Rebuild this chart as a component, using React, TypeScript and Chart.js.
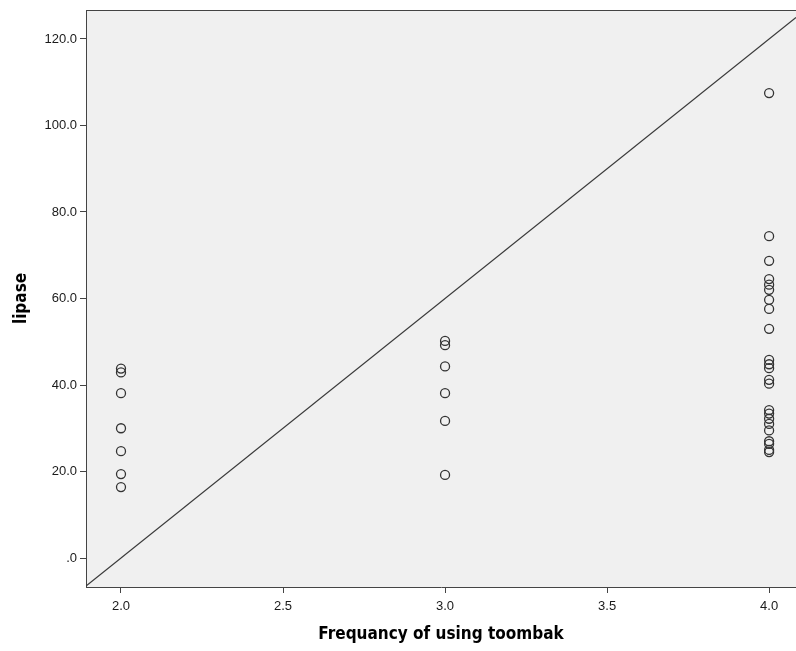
import React, { useEffect, useRef } from "react";
import { Chart, registerables } from "chart.js";

Chart.register(...registerables);

const xCategories = [2.0, 3.0, 4.0];
const lipaseAt2 = [43.8, 42.9, 38.1, 30.0, 24.7, 19.4, 16.4];
const lipaseAt3 = [50.2, 49.2, 44.3, 38.1, 31.7, 19.2];
const lipaseAt4 = [
  107.5, 74.4, 68.7, 64.5, 63.2, 62.0, 59.7, 57.6, 53.0, 45.8, 44.8, 43.9,
  41.2, 40.3, 34.2, 33.4, 32.2, 31.0, 29.5, 27.0, 26.4, 25.0, 24.5,
];
const xTickValues = [2.0, 2.5, 3.0, 3.5, 4.0];
const yTickValues = [0, 20, 40, 60, 80, 100, 120];
const xRange = [1.892, 4.083];
const yRange = [-6.7, 126.7];
const refLine = { slope: 60, intercept: -120 };
const xTitle = "Frequancy of using toombak";
const yTitle = "lipase";

const fmt = (v: number) => (v === 0 ? ".0" : v.toFixed(1));

const plotBg = {
  id: "plotBg",
  beforeDraw(chart: any) {
    const { ctx, chartArea } = chart;
    ctx.save();
    ctx.fillStyle = "#F0F0F0";
    ctx.fillRect(chartArea.left, chartArea.top, chartArea.right - chartArea.left, chartArea.bottom - chartArea.top);
    ctx.restore();
  },
  afterDraw(chart: any) {
    const { ctx, chartArea } = chart;
    ctx.save();
    ctx.strokeStyle = "#444";
    ctx.lineWidth = 1;
    ctx.beginPath();
    ctx.moveTo(chartArea.left, chartArea.top + 0.5);
    ctx.lineTo(chartArea.right, chartArea.top + 0.5);
    ctx.stroke();
    ctx.restore();
  },
};

export default function App() {
  const ref = useRef<HTMLCanvasElement | null>(null);

  useEffect(() => {
    if (!ref.current) return;
    const points: { x: number; y: number }[] = [];
    const groups = [lipaseAt2, lipaseAt3, lipaseAt4];
    groups.forEach((arr, i) => arr.forEach((v) => points.push({ x: xCategories[i], y: v })));
    const linePts = xRange.map((x) => ({ x, y: refLine.slope * x + refLine.intercept }));

    const tickFont = { family: "'Liberation Sans', Arial, sans-serif", size: 13 };
    const titleFont = { family: "'Liberation Sans Narrow', 'DejaVu Sans Condensed', Arial, sans-serif", size: 17, weight: "bold" as const };

    const chart = new Chart(ref.current, {
      type: "scatter",
      data: {
        datasets: [
          {
            type: "line",
            data: linePts,
            borderColor: "#3a3a3a",
            borderWidth: 1.2,
            pointRadius: 0,
            fill: false,
          } as any,
          {
            type: "scatter",
            data: points,
            pointStyle: "circle",
            pointRadius: 4.5,
            backgroundColor: "rgba(0,0,0,0)",
            borderColor: "#333",
            borderWidth: 1.3,
          },
        ],
      },
      options: {
        animation: false,
        responsive: false,
        devicePixelRatio: 1,
        layout: { autoPadding: false, padding: { top: 10, right: 0, left: 0, bottom: 0 } },
        plugins: { legend: { display: false }, tooltip: { enabled: false } },
        scales: {
          x: {
            type: "linear",
            min: xRange[0],
            max: xRange[1],
            afterBuildTicks: (s: any) => {
              s.ticks = xTickValues.map((v) => ({ value: v }));
            },
            afterFit: (s: any) => {
              s.height = 64;
              s.paddingLeft = 0;
              s.paddingRight = 0;
            },
            grid: { drawOnChartArea: false, drawTicks: true, tickLength: 6, color: "#444" },
            border: { display: true, color: "#444", width: 1 },
            ticks: {
              font: tickFont,
              color: "#1a1a1a",
              padding: 6,
              maxRotation: 0,
              autoSkip: false,
              callback: (v: any) => fmt(Number(v)),
            },
            title: { display: true, text: xTitle, font: titleFont, color: "#000", padding: { top: 0, bottom: 6 } },
          },
          y: {
            type: "linear",
            min: yRange[0],
            max: yRange[1],
            afterBuildTicks: (s: any) => {
              s.ticks = yTickValues.map((v) => ({ value: v }));
            },
            afterFit: (s: any) => {
              s.width = 86;
              s.paddingTop = 0;
              s.paddingBottom = 0;
            },
            grid: { drawOnChartArea: false, drawTicks: true, tickLength: 6, color: "#444" },
            border: { display: true, color: "#444", width: 1 },
            ticks: {
              font: tickFont,
              color: "#1a1a1a",
              padding: 3,
              autoSkip: false,
              callback: (v: any) => fmt(Number(v)),
            },
            title: { display: true, text: yTitle, font: titleFont, color: "#000", padding: { top: 11, bottom: 0 } },
          },
        },
      },
      plugins: [plotBg],
    });
    return () => chart.destroy();
  }, []);

  return (
    <div style={{ position: "absolute", left: 0, top: 0, width: 796, height: 651, background: "#fff" }}>
      <canvas ref={ref} width={796} height={651} style={{ width: 796, height: 651, display: "block" }} />
    </div>
  );
}
